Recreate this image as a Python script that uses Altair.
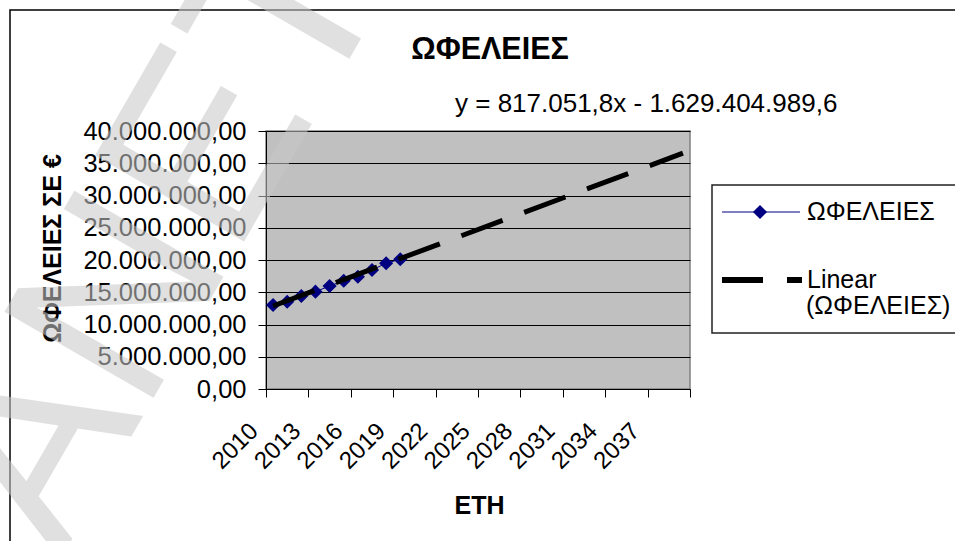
import altair as alt
import pandas as pd

# Observed benefits per year (EUR)
years = [2010, 2011, 2012, 2013, 2014, 2015, 2016, 2017, 2018, 2019]
benefits = [13020000, 13530000, 14420000, 15090000, 15970000,
            16790000, 17410000, 18450000, 19490000, 20110000]

# Linear trend (forecast to 2039)
trend_slope = 817051.8
trend_intercept = -1629404989.6
trend_years = [2010, 2039]

# Axis ticks
y_ticks = [0, 5000000, 10000000, 15000000, 20000000, 25000000,
           30000000, 35000000, 40000000]
x_tick_edges = [2009.5, 2012.5, 2015.5, 2018.5, 2021.5, 2024.5,
                2027.5, 2030.5, 2033.5, 2036.5, 2039.5]

FONT = "Liberation Sans"
NAVY = "#000080"

# plot-area geometry (pixels)
W, H = 424, 258
PAD_L, PAD_T = 266, 131


def el_num(v, decimals):
    s = f"{v:,.{decimals}f}"
    return s.replace(",", "_").replace(".", ",").replace("_", ".")


equation = f"y = {el_num(trend_slope, 1)}x - {el_num(-trend_intercept, 1)}"

greek_fmt = ("replace(replace(replace(format(datum.value, ',.2f'), "
             "regexp(',', 'g'), '_'), regexp('[.]', 'g'), ','), regexp('_', 'g'), '.')")

x_enc = alt.X(
    "year:Q",
    scale=alt.Scale(domain=[2009.5, 2039.5], nice=False, zero=False),
    axis=alt.Axis(
        values=x_tick_edges,
        labelExpr="datum.value < 2039 ? toString(datum.value + 0.5) : ''",
        labelAngle=315, labelAlign="right", labelBaseline="middle",
        labelOffset=-12, labelPadding=30, labelOverlap=False,
        labelFont=FONT, labelFontSize=24, labelColor="black",
        tickSize=8, tickColor="black", domainColor="black",
        grid=False,
        title="ΕΤΗ", titleFont=FONT, titleFontSize=25, titleFontWeight="bold",
        titleColor="black", titleX=W / 2 + 1, titleY=116,
        titleBaseline="middle", titleAlign="center",
    ),
)

y_enc = alt.Y(
    "value:Q",
    scale=alt.Scale(domain=[0, 40000000], nice=False),
    axis=alt.Axis(
        values=y_ticks, labelExpr=greek_fmt,
        labelFont=FONT, labelFontSize=25.5, labelColor="black", labelPadding=12,
        tickSize=8, tickColor="black", domainColor="black",
        grid=True, gridColor="black", gridWidth=1, gridOpacity=1,
        title="ΩΦΕΛΕΙΕΣ ΣΕ €", titleFont=FONT, titleFontSize=25,
        titleFontWeight="bold", titleColor="black",
        titleAngle=270, titleX=52 - PAD_L, titleY=117,
        titleAlign="center", titleBaseline="middle",
    ),
)

series = pd.DataFrame({"year": years, "value": benefits})
trend = pd.DataFrame({"year": trend_years})

series_line = alt.Chart(series).mark_line(color=NAVY, strokeWidth=1).encode(x=x_enc, y=y_enc)
series_pts = alt.Chart(series).mark_point(
    shape="diamond", filled=True, color=NAVY, size=200, opacity=1
).encode(x=x_enc, y=y_enc)

trend_line = alt.Chart(trend).transform_calculate(
    value=f"{trend_slope} * datum.year + ({trend_intercept})"
).mark_line(color="black", strokeWidth=5, strokeDash=[44, 23], strokeCap="butt").encode(
    x=x_enc, y=y_enc
)


def label(text, x, y, size=25, weight="normal", align="left"):
    return alt.Chart(pd.DataFrame({"t": [text]})).mark_text(
        font=FONT, fontSize=size, fontWeight=weight, color="black",
        align=align, baseline="middle"
    ).encode(text="t:N", x=alt.value(x - PAD_L), y=alt.value(y - PAD_T))


title_text = label("ΩΦΕΛΕΙΕΣ", 490, 50, size=30.5, weight="bold", align="center")
eq_text = label(equation, 455, 104, size=26)

# outer frame of the chart
frame = alt.Chart(pd.DataFrame({"k": [0]})).mark_rect(
    fill=None, stroke="black", strokeWidth=1.5
).encode(
    x=alt.value(10 - PAD_L), x2=alt.value(980 - PAD_L),
    y=alt.value(10 - PAD_T), y2=alt.value(560 - PAD_T),
)

# legend
legend_box = alt.Chart(pd.DataFrame({"k": [0]})).mark_rect(
    fill="white", stroke="#222222", strokeWidth=1.5
).encode(
    x=alt.value(712 - PAD_L), x2=alt.value(975 - PAD_L),
    y=alt.value(185 - PAD_T), y2=alt.value(333 - PAD_T),
)
leg_line = alt.Chart(pd.DataFrame({"k": [0]})).mark_rule(color=NAVY, strokeWidth=1).encode(
    x=alt.value(722 - PAD_L), x2=alt.value(800 - PAD_L), y=alt.value(212 - PAD_T)
)
leg_pt = alt.Chart(pd.DataFrame({"k": [0]})).mark_point(
    shape="diamond", filled=True, color=NAVY, size=200, opacity=1
).encode(x=alt.value(760 - PAD_L), y=alt.value(212 - PAD_T))
leg_dash = alt.Chart(pd.DataFrame({"k": [0]})).mark_rule(
    color="black", strokeWidth=6, strokeDash=[41, 24], strokeCap="butt"
).encode(x=alt.value(722 - PAD_L), x2=alt.value(802 - PAD_L), y=alt.value(280 - PAD_T))
leg_t1 = label("ΩΦΕΛΕΙΕΣ", 807, 212)
leg_t2 = label("Linear", 807, 280)
leg_t3 = label("(ΩΦΕΛΕΙΕΣ)", 806, 306)

# faint diagonal watermark
watermark = alt.Chart(pd.DataFrame({"t": ["ANET"]})).mark_text(
    font=FONT, fontSize=250, color="#c8c8c8", opacity=0.56,
    angle=300, align="left", baseline="alphabetic"
).encode(text="t:N", x=alt.value(60 - PAD_L), y=alt.value(560 - PAD_T))

chart = alt.layer(
    frame, series_line, series_pts, trend_line, title_text, eq_text,
    legend_box, leg_line, leg_pt, leg_dash, leg_t1, leg_t2, leg_t3, watermark,
).properties(
    width=W, height=H,
    autosize=alt.AutoSizeParams(type="none"),
    padding={"left": PAD_L, "top": PAD_T, "right": 955 - PAD_L - W, "bottom": 541 - PAD_T - H},
    background="white",
).configure_view(
    fill="#C0C0C0", stroke="#808080", strokeWidth=1.5
)

chart.save("out.html", embed_options={"renderer": "svg", "actions": False})
